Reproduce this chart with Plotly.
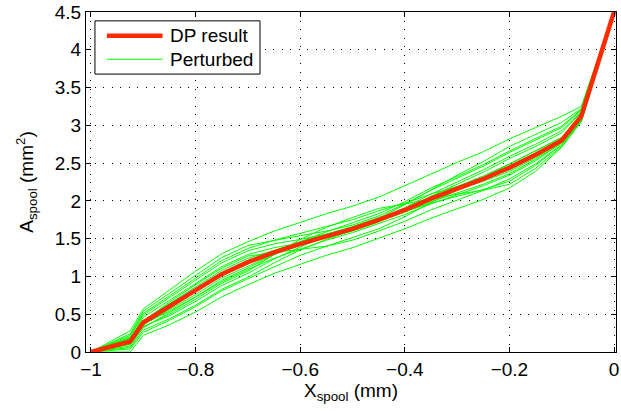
import plotly.graph_objects as go

x_nodes = [-1, -0.925, -0.9, -0.85, -0.8, -0.75, -0.7, -0.65, -0.6, -0.55, -0.5,
           -0.45, -0.4, -0.35, -0.3, -0.25, -0.2, -0.15, -0.1, -0.0625, 0]

dp_result = [0, 0.14, 0.39, 0.60, 0.81, 1.03, 1.19, 1.32, 1.43, 1.53, 1.63,
             1.75, 1.88, 2.03, 2.16, 2.29, 2.44, 2.61, 2.80, 3.12, 4.5]

perturbed_01 = [0, 0.28, 0.57, 0.82, 1.07, 1.30, 1.46, 1.60, 1.72, 1.83, 1.93, 2.05, 2.20, 2.36, 2.51, 2.65, 2.82, 2.97, 3.12, 3.25, 4.5]
perturbed_02 = [0, 0.24, 0.54, 0.78, 1.02, 1.25, 1.41, 1.48, 1.54, 1.60, 1.68, 1.80, 1.96, 2.14, 2.30, 2.46, 2.64, 2.80, 2.97, 3.20, 4.5]
perturbed_03 = [0, 0.20, 0.49, 0.72, 0.95, 1.18, 1.34, 1.43, 1.49, 1.56, 1.65, 1.77, 1.95, 2.15, 2.34, 2.52, 2.72, 2.88, 3.04, 3.22, 4.5]
perturbed_04 = [0, 0.17, 0.46, 0.68, 0.91, 1.13, 1.29, 1.38, 1.44, 1.51, 1.60, 1.72, 1.88, 2.06, 2.22, 2.38, 2.56, 2.72, 2.90, 3.17, 4.5]
perturbed_05 = [0, 0.15, 0.42, 0.64, 0.86, 1.08, 1.24, 1.35, 1.45, 1.53, 1.63, 1.75, 1.89, 2.05, 2.19, 2.33, 2.49, 2.66, 2.84, 3.14, 4.5]
perturbed_06 = [0, 0.12, 0.39, 0.62, 0.83, 1.05, 1.21, 1.34, 1.46, 1.56, 1.66, 1.78, 1.89, 2.03, 2.14, 2.26, 2.39, 2.57, 2.78, 3.10, 4.5]
perturbed_07 = [0, 0.10, 0.36, 0.56, 0.76, 0.98, 1.14, 1.29, 1.41, 1.53, 1.63, 1.75, 1.91, 2.09, 2.25, 2.41, 2.59, 2.75, 2.93, 3.18, 4.5]
perturbed_08 = [0, 0.08, 0.32, 0.52, 0.72, 0.93, 1.09, 1.24, 1.36, 1.48, 1.58, 1.70, 1.82, 1.96, 2.08, 2.20, 2.34, 2.53, 2.77, 3.08, 4.5]
perturbed_09 = [0, 0.18, 0.34, 0.48, 0.67, 0.88, 1.04, 1.23, 1.39, 1.53, 1.65, 1.77, 1.86, 1.97, 2.06, 2.15, 2.26, 2.47, 2.74, 3.07, 4.5]
perturbed_10 = [0, 0.06, 0.29, 0.44, 0.62, 0.83, 0.99, 1.18, 1.35, 1.49, 1.61, 1.73, 1.85, 1.99, 2.10, 2.22, 2.36, 2.55, 2.77, 3.09, 4.5]
perturbed_11 = [0, 0.00, 0.22, 0.36, 0.53, 0.73, 0.89, 1.04, 1.16, 1.28, 1.38, 1.50, 1.63, 1.77, 1.90, 2.02, 2.17, 2.39, 2.71, 3.05, 4.5]
perturbed_12 = [0, 0.04, 0.26, 0.42, 0.60, 0.81, 0.97, 1.13, 1.28, 1.40, 1.51, 1.63, 1.79, 1.98, 2.14, 2.31, 2.49, 2.66, 2.84, 3.12, 4.5]
perturbed_13 = [0, 0.22, 0.51, 0.74, 0.98, 1.21, 1.37, 1.48, 1.57, 1.66, 1.75, 1.87, 1.97, 2.09, 2.19, 2.29, 2.41, 2.59, 2.79, 3.15, 4.5]
perturbed_14 = [0, 0.13, 0.37, 0.54, 0.73, 0.95, 1.11, 1.29, 1.46, 1.59, 1.71, 1.83, 1.99, 2.17, 2.32, 2.48, 2.66, 2.82, 2.99, 3.21, 4.5]
perturbed_15 = [0, 0.19, 0.41, 0.66, 0.89, 1.11, 1.27, 1.32, 1.36, 1.40, 1.48, 1.60, 1.73, 1.88, 2.01, 2.14, 2.29, 2.49, 2.75, 3.06, 4.5]
perturbed_16 = [0, 0.11, 0.33, 0.50, 0.70, 0.91, 1.07, 1.29, 1.49, 1.65, 1.78, 1.90, 1.96, 2.03, 2.09, 2.14, 2.22, 2.43, 2.72, 3.05, 4.5]

perturbed = [perturbed_01, perturbed_02, perturbed_03, perturbed_04, perturbed_05,
             perturbed_06, perturbed_07, perturbed_08, perturbed_09, perturbed_10,
             perturbed_11, perturbed_12, perturbed_13, perturbed_14, perturbed_15,
             perturbed_16]

x_ticks = [-1, -0.8, -0.6, -0.4, -0.2, 0]
x_tick_labels = ["\u22121", "\u22120.8", "\u22120.6", "\u22120.4", "\u22120.2", "0"]
y_ticks = [0, 0.5, 1, 1.5, 2, 2.5, 3, 3.5, 4, 4.5]
y_tick_labels = ["0", "0.5", "1", "1.5", "2", "2.5", "3", "3.5", "4", "4.5"]

legend_labels = ["DP result", "Perturbed"]

FONT = "Liberation Sans, Arial, Helvetica, sans-serif"
RED = "#ff2a00"
GREEN = "#00ff00"
FS = 19

fig = go.Figure()
for i, ys in enumerate(perturbed):
    fig.add_trace(go.Scatter(
        x=x_nodes, y=ys, mode="lines",
        line=dict(color=GREEN, width=1),
        name=legend_labels[1], showlegend=False,
        hoverinfo="skip"))

fig.add_trace(go.Scatter(
    x=x_nodes, y=dp_result, mode="lines",
    line=dict(color=RED, width=4.5),
    name=legend_labels[0], showlegend=False))

axis_common = dict(
    showline=True, linecolor="black", linewidth=1, mirror="ticks",
    ticks="inside", ticklen=5, tickwidth=1, tickcolor="black",
    showgrid=True, gridcolor="black", gridwidth=1, griddash="1px,7.5px",
    zeroline=False, tickfont=dict(family=FONT, size=FS, color="black"),
    ticklabeloverflow="allow",
)

fig.update_xaxes(
    range=[-1.0095, 0.0038], tickvals=x_ticks, ticktext=x_tick_labels,
    title=dict(text="X<sub>spool</sub> (mm)", font=dict(family=FONT, size=FS, color="black"),
               standoff=4),
    **axis_common)
fig.update_yaxes(
    range=[0, 4.5], tickvals=y_ticks, ticktext=y_tick_labels,
    title=dict(text="A<sub>spool</sub> (mm<sup>2</sup>)", font=dict(family=FONT, size=FS, color="black"),
               standoff=16),
    **axis_common)

# Legend box drawn in paper coordinates (plot area: 86..619 px wide, 7..352 px tall)
W, H, L, B = 533.0, 345.0, 86.0, 352.0
def px(xp):
    return (xp - L) / W
def py(yp):
    return (B - yp) / H

shapes = [
    dict(type="rect", xref="paper", yref="paper",
         x0=px(95), x1=px(261), y0=py(70), y1=py(16),
         line=dict(color="black", width=1), fillcolor="white", layer="above"),
    dict(type="line", xref="paper", yref="paper",
         x0=px(107), x1=px(163), y0=py(31), y1=py(31),
         line=dict(color=RED, width=4.5), layer="above"),
    dict(type="line", xref="paper", yref="paper",
         x0=px(107), x1=px(163), y0=py(55), y1=py(55),
         line=dict(color=GREEN, width=1), layer="above"),
]
annotations = [
    dict(xref="paper", yref="paper", x=px(168), y=py(31), text=legend_labels[0],
         showarrow=False, xanchor="left", yanchor="middle",
         font=dict(family=FONT, size=FS, color="black")),
    dict(xref="paper", yref="paper", x=px(168), y=py(55), text=legend_labels[1],
         showarrow=False, xanchor="left", yanchor="middle",
         font=dict(family=FONT, size=FS, color="black")),
]

fig.update_layout(
    width=621, height=411,
    margin=dict(l=86, r=2, t=7, b=59),
    paper_bgcolor="white", plot_bgcolor="white",
    font=dict(family=FONT, size=FS, color="black"),
    showlegend=False,
    shapes=shapes, annotations=annotations,
)

fig.write_html("out.html")
